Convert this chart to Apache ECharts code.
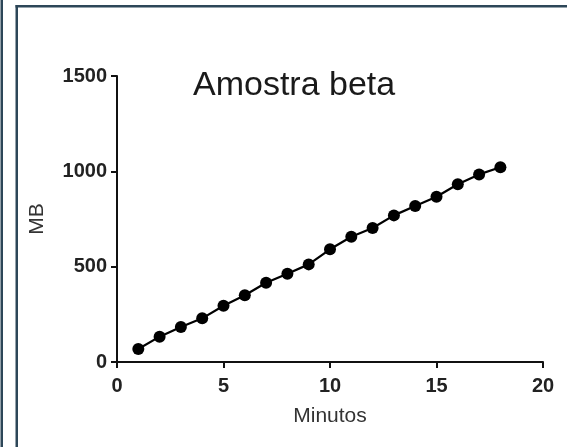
<!DOCTYPE html>
<html>
<head>
<meta charset="utf-8">
<script src="https://cdn.jsdelivr.net/npm/echarts@6/dist/echarts.min.js"></script>
<style>
html,body{margin:0;padding:0;background:#fff;}
#c{width:567px;height:447px;}
</style>
</head>
<body>
<div id="c"></div>
<script>
const minutes = [1,2,3,4,5,6,7,8,9,10,11,12,13,14,15,16,17,18];
const mb = [68,133,184,229,295,350,416,463,512,591,657,703,769,818,867,932,984,1021];
const xTicks = [0,5,10,15,20];
const yTicks = [0,500,1000,1500];

const chart = echarts.init(document.getElementById('c'), null, {renderer:'canvas'});
const frameColor = '#2d4658';
chart.setOption({
  backgroundColor:'#ffffff',
  animation:false,
  title:{
    text:'Amostra beta',
    left:188, top:64,
    textStyle:{fontFamily:'Liberation Sans', fontSize:34, fontWeight:'normal', color:'#1a1a1a'}
  },
  graphic:[
    {type:'rect', shape:{x:0.5,y:0,width:2.5,height:447}, style:{fill:frameColor}, silent:true},
    {type:'rect', shape:{x:15.5,y:5,width:2.5,height:442}, style:{fill:frameColor}, silent:true},
    {type:'rect', shape:{x:15.5,y:5,width:552,height:2.5}, style:{fill:frameColor}, silent:true}
  ],
  grid:{left:117, right:24, top:76, bottom:85, containLabel:false},
  xAxis:{
    type:'value', min:xTicks[0], max:xTicks[xTicks.length-1], interval:5,
    name:'Minutos', nameLocation:'middle', nameGap:44,
    nameTextStyle:{fontFamily:'Liberation Sans', fontSize:21, color:'#333'},
    axisLine:{lineStyle:{color:'#111', width:2}},
    axisTick:{show:true, length:6, lineStyle:{color:'#111', width:2}},
    axisLabel:{fontFamily:'Liberation Sans', fontSize:20, fontWeight:'bold', color:'#222', margin:14,
      formatter:v=>String(v)},
    splitLine:{show:false}
  },
  yAxis:{
    type:'value', min:yTicks[0], max:yTicks[yTicks.length-1], interval:500,
    name:'MB', nameLocation:'middle', nameGap:69, nameRotate:90,
    nameTextStyle:{fontFamily:'Liberation Sans', fontSize:21, color:'#333'},
    axisLine:{show:true, lineStyle:{color:'#111', width:2}},
    axisTick:{show:true, length:6, lineStyle:{color:'#111', width:2}},
    axisLabel:{fontFamily:'Liberation Sans', fontSize:20, fontWeight:'bold', color:'#222', margin:10,
      formatter:v=>String(v)},
    splitLine:{show:false}
  },
  series:[{
    type:'line',
    data: minutes.map((m,i)=>[m, mb[i]]),
    symbol:'circle', symbolSize:12,
    itemStyle:{color:'#000'},
    lineStyle:{color:'#000', width:2.2},
    z:3
  }]
});
</script>
</body>
</html>
